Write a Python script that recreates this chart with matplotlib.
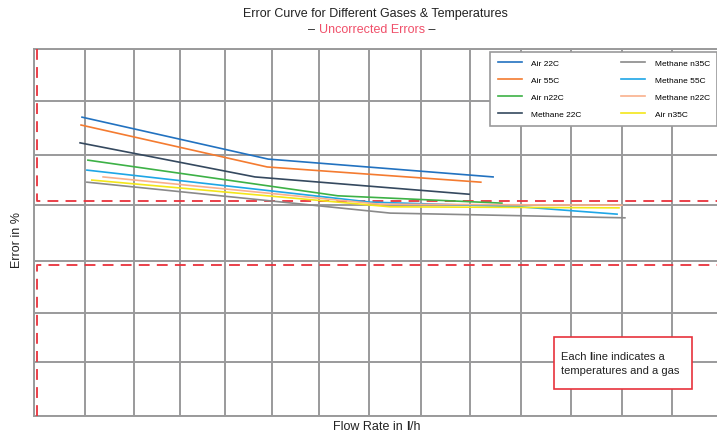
import matplotlib.pyplot as plt
from matplotlib.patches import Rectangle

plt.rcParams["font.family"] = ["Liberation Sans", "DejaVu Sans"]

# series: flow rate (arbitrary units) vs error (%)
series = {
    "Air 22C":      ([0.98, 4.78, 9.37], [5.70, 4.90, 4.56]),
    "Air 55C":      ([0.96, 4.76, 9.12], [5.55, 4.75, 4.46]),
    "Air n22C":     ([1.10, 6.20, 9.55], [4.88, 4.20, 4.06]),
    "Methane 22C":  ([0.94, 4.51, 8.88], [5.21, 4.56, 4.23]),
    "Methane n35C": ([1.08, 7.27, 12.06], [4.46, 3.87, 3.78]),
    "Methane 55C":  ([1.08, 6.86, 9.92, 11.90], [4.69, 4.08, 3.99, 3.85]),
    "Methane n22C": ([1.41, 7.06, 12.00], [4.56, 4.04, 4.02]),
    "Air n35C":     ([1.18, 7.27, 11.94], [4.50, 3.99, 3.97]),
}
colors = {
    "Air 22C": "#2272c0",
    "Air 55C": "#f47b30",
    "Air n22C": "#3db146",
    "Methane 22C": "#35495f",
    "Methane n35C": "#8a8a8a",
    "Methane 55C": "#1ea6e6",
    "Methane n22C": "#f9b08c",
    "Air n35C": "#f3e61a",
}

# hand-drawn grid, slightly irregular
x_grid = [0, 1.04, 2.04, 2.98, 3.90, 4.86, 5.82, 6.84, 7.90, 8.90, 9.94, 10.96, 12.00, 13.02]
y_grid = [0, 1.03, 1.97, 2.96, 4.02, 4.98, 6.01, 7.0]
x_max = 13.94
y_max = 7.0

# red dashed limit markers
limit_x = 0.06
upper_limit = 4.10
lower_limit = 2.88

grid_col = "#9a9a9b"
red = "#e8323c"
ink = "#222222"

fig = plt.figure(figsize=(7.17, 4.35), dpi=100)
ax = fig.add_axes([34 / 717, 18 / 435, 683 / 717, 367 / 435])
ax.set_xlim(0, x_max)
ax.set_ylim(0, y_max)
ax.set_xticks(x_grid)
ax.set_yticks(y_grid)
ax.tick_params(length=0, labelbottom=False, labelleft=False)
ax.grid(True, color=grid_col, lw=1.4)
for s in ["left", "bottom", "top"]:
    ax.spines[s].set_color(grid_col)
    ax.spines[s].set_linewidth(1.4)
ax.spines["right"].set_visible(False)

dash = (0, (6, 4))
ax.plot([limit_x, limit_x, x_max], [y_max, upper_limit, upper_limit], color=red, lw=1.3, ls=dash, zorder=3)
ax.plot([limit_x, limit_x, x_max], [0, lower_limit, lower_limit], color=red, lw=1.3, ls=dash, zorder=3)

handles = []
for name, (xs, ys) in series.items():
    (h,) = ax.plot(xs, ys, color=colors[name], lw=1.2, label=name, zorder=4)
    handles.append(h)

leg = fig.legend(handles=handles, loc="upper left", bbox_to_anchor=(490 / 717, 1 - 53 / 435),
                 ncol=2, fontsize=6, frameon=True, fancybox=False, edgecolor=grid_col,
                 framealpha=1, handlelength=2.9, handletextpad=1.1, columnspacing=4.8,
                 labelspacing=1.1, borderpad=0.9, borderaxespad=0)
leg.get_frame().set_linewidth(1.2)

# titles
fig.text(375 / 717, 1 - 14 / 435, "Error Curve for Different Gases & Temperatures",
         ha="center", va="center", fontsize=9, color=ink)
t1 = fig.text(0.4298, 1 - 30 / 435, "– ", ha="left", va="center", fontsize=9, color=ink)
t2 = ax.annotate("Uncorrected Errors", xy=(1, 0), xycoords=t1, va="bottom", ha="left",
                 fontsize=9, color="#f0506a", annotation_clip=False)
ax.annotate(" –", xy=(1, 0), xycoords=t2, va="bottom", ha="left", fontsize=9, color=ink,
            annotation_clip=False)

# axis labels with the bold "l"
a1 = fig.text(333 / 717, 1 - 427 / 435, "Flow Rate in ", ha="left", va="center", fontsize=9, color=ink)
a2 = ax.annotate("l", xy=(1, 0), xycoords=a1, va="bottom", ha="left", fontsize=9,
                 fontweight="bold", color=ink, annotation_clip=False)
ax.annotate("/h", xy=(1, 0), xycoords=a2, va="bottom", ha="left", fontsize=9, color=ink,
            annotation_clip=False)
fig.text(17 / 717, 1 - 240 / 435, "Error in %", rotation=90, ha="center", va="center",
         fontsize=9, color=ink)

# note box, drawn inside the axes so its text can sit above it
ax.add_patch(Rectangle((554 / 717, 1 - 390 / 435), 138 / 717, 52 / 435,
                       transform=fig.transFigure, facecolor="white",
                       edgecolor=red, lw=1.2, zorder=5, clip_on=False))
n1 = ax.text(561 / 717, 1 - 357 / 435, "Each ", transform=fig.transFigure, ha="left",
             va="center", fontsize=8, color=ink, zorder=6)
n2 = ax.annotate("l", xy=(1, 0), xycoords=n1, va="bottom", ha="left", fontsize=8,
                 fontweight="bold", color=ink, zorder=6, annotation_clip=False)
ax.annotate("ine indicates a", xy=(1, 0), xycoords=n2, va="bottom", ha="left", fontsize=8,
            color=ink, zorder=6, annotation_clip=False)
ax.text(561 / 717, 1 - 371 / 435, "temperatures and a gas", transform=fig.transFigure,
        ha="left", va="center", fontsize=8, color=ink, zorder=6)

fig.savefig("out.png", dpi=100)
